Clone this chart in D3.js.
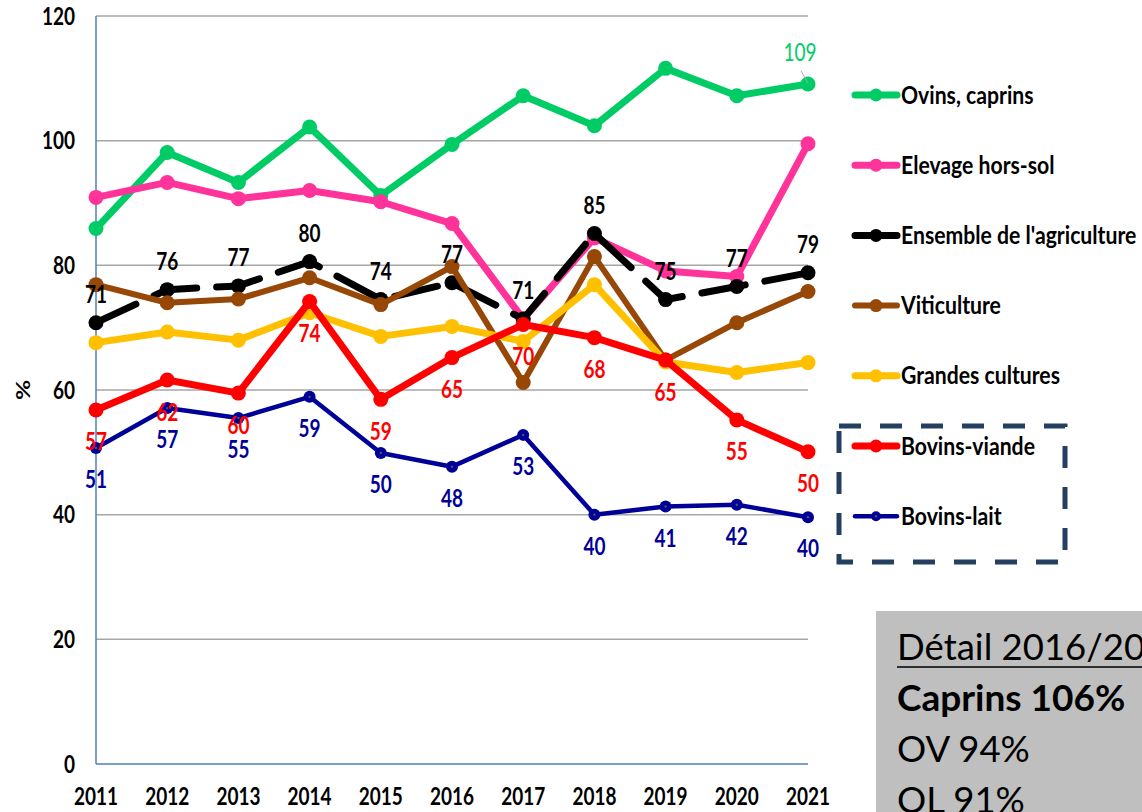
<!DOCTYPE html>
<html>
<head>
<meta charset="utf-8">
<script src="https://cdn.jsdelivr.net/npm/d3@7"></script>
<style>
  body { margin: 0; background: #fff; }
  svg text { font-family: Lato, "Open Sans", sans-serif; }
</style>
</head>
<body>
<svg id="chart" width="1142" height="812"></svg>
<script>
// data
const years = [2011, 2012, 2013, 2014, 2015, 2016, 2017, 2018, 2019, 2020, 2021];
const yTicks = [0, 20, 40, 60, 80, 100, 120];

const ovinsCaprins   = [85.9, 98.1, 93.3, 102.2, 91.2, 99.4, 107.2, 102.4, 111.6, 107.2, 109.1];
const elevageHorsSol = [90.9, 93.3, 90.7, 92.0, 90.2, 86.7, 71.4, 84.4, 79.1, 78.2, 99.5];
const ensemble       = [70.8, 76.1, 76.7, 80.6, 74.5, 77.2, 71.4, 85.1, 74.5, 76.6, 78.8];
const viticulture    = [76.9, 74.0, 74.6, 78.0, 73.7, 79.8, 61.2, 81.4, 64.8, 70.8, 75.8];
const grandesCult    = [67.6, 69.3, 68.0, 72.4, 68.6, 70.2, 67.8, 76.9, 64.5, 62.8, 64.4];
const bovinsViande   = [56.8, 61.6, 59.5, 74.2, 58.5, 65.2, 70.5, 68.4, 64.8, 55.2, 50.1];
const bovinsLait     = [50.7, 57.1, 55.5, 58.9, 49.9, 47.7, 52.8, 40.0, 41.3, 41.6, 39.6];

const ensembleLabels = ["71", "76", "77", "80", "74", "77", "71", "85", "75", "77", "79"];
const viandeLabels   = ["57", "62", "60", "74", "59", "65", "70", "68", "65", "55", "50"];
const laitLabels     = ["51", "57", "55", "59", "50", "48", "53", "40", "41", "42", "40"];
const ovinsLastLabel = "109";

const seriesNames = ["Ovins, caprins", "Elevage hors-sol", "Ensemble de l'agriculture",
                     "Viticulture", "Grandes cultures", "Bovins-viande", "Bovins-lait"];

const detailLines = ["Détail 2016/2021", "Caprins 106%", "OV 94%", "OL 91%"];

// styling per series
const series = [
  { name: seriesNames[0], values: ovinsCaprins,   color: "#00CC66", width: 7, r: 7.5 },
  { name: seriesNames[1], values: elevageHorsSol, color: "#FF3399", width: 7, r: 7.5 },
  { name: seriesNames[2], values: ensemble,       color: "#000000", width: 7, r: 7.5, dash: "44,20" },
  { name: seriesNames[3], values: viticulture,    color: "#974706", width: 6, r: 7.5 },
  { name: seriesNames[4], values: grandesCult,    color: "#FFC000", width: 7, r: 7.5 },
  { name: seriesNames[5], values: bovinsViande,   color: "#FF0000", width: 7, r: 7.5 },
  { name: seriesNames[6], values: bovinsLait,     color: "#000099", width: 4.5, r: 6, dot: true }
];

const svg = d3.select("#chart");
const SY = 1.3; // the source picture is stretched vertically

const x = d3.scaleLinear().domain([2011, 2021]).range([96, 808]);
const y = d3.scaleLinear().domain([0, 120]).range([764, 16]);

function txt(g, px, py, s, o = {}) {
  return g.append("text")
    .attr("transform", `translate(${px},${py}) scale(1,${o.sy || SY})`)
    .attr("text-anchor", o.anchor || "start")
    .attr("font-size", o.size || 19)
    .attr("font-weight", o.weight || "bold")
    .attr("fill", o.fill || "#000")
    .text(s);
}

// grid
svg.append("g").selectAll("line")
  .data(yTicks.filter(d => d > 0))
  .join("line")
  .attr("x1", x(2011)).attr("x2", x(2021))
  .attr("y1", d => y(d)).attr("y2", d => y(d))
  .attr("stroke", "#A6A6A6").attr("stroke-width", 1.5);

// axes lines
svg.append("line").attr("x1", x(2011)).attr("x2", x(2011)).attr("y1", y(120)).attr("y2", y(0))
  .attr("stroke", "#4F81BD").attr("stroke-width", 1.5);
svg.append("line").attr("x1", x(2011)).attr("x2", x(2021)).attr("y1", y(0)).attr("y2", y(0))
  .attr("stroke", "#4F81BD").attr("stroke-width", 1.5);

const axisG = svg.append("g");
yTicks.forEach(t => txt(axisG, 75, y(t) + 8.5, t, { anchor: "end" }));
years.forEach(yr => txt(axisG, x(yr), 805, yr, { anchor: "middle" }));

axisG.append("text")
  .attr("transform", `translate(30,390) rotate(-90) scale(${SY},1)`)
  .attr("text-anchor", "middle")
  .attr("font-size", 19).attr("font-weight", "bold")
  .text("%");

// lines + markers
const line = d3.line().x((d, i) => x(years[i])).y(d => y(d));

series.forEach(s => {
  const g = svg.append("g");
  g.append("path")
    .attr("d", line(s.values))
    .attr("fill", "none")
    .attr("stroke", s.color)
    .attr("stroke-width", s.width)
    .attr("stroke-linejoin", "round")
    .attr("stroke-linecap", "round")
    .attr("stroke-dasharray", s.dash || null);
  g.selectAll("circle.m")
    .data(s.values)
    .join("circle")
    .attr("class", "m")
    .attr("cx", (d, i) => x(years[i]))
    .attr("cy", d => y(d))
    .attr("r", s.r)
    .attr("fill", s.color);
  if (s.dot) {
    g.selectAll("circle.d")
      .data(s.values)
      .join("circle")
      .attr("class", "d")
      .attr("cx", (d, i) => x(years[i]))
      .attr("cy", d => y(d))
      .attr("r", 1.2)
      .attr("fill", "#555");
  }
});

// data labels
const lab = svg.append("g");
ensemble.forEach((v, i) => txt(lab, x(years[i]), y(v) - 19.5, ensembleLabels[i], { anchor: "middle" }));
bovinsViande.forEach((v, i) => txt(lab, x(years[i]), y(v) + 40.5, viandeLabels[i], { anchor: "middle", fill: "#FF0000" }));
bovinsLait.forEach((v, i) => txt(lab, x(years[i]), y(v) + 40, laitLabels[i], { anchor: "middle", fill: "#000099" }));

const lastOv = ovinsCaprins[ovinsCaprins.length - 1];
lab.append("line")
  .attr("x1", x(2021) - 7).attr("y1", y(lastOv) - 13)
  .attr("x2", x(2021)).attr("y2", y(lastOv) - 1)
  .attr("stroke", "#A6A6A6").attr("stroke-width", 1);
txt(lab, x(2021) - 8, y(lastOv) - 23, ovinsLastLabel, { anchor: "middle", weight: "normal", fill: "#00CC66" });

// legend
const leg = svg.append("g");
series.forEach((s, i) => {
  const ly = 95 + i * 70.2;
  leg.append("line").attr("x1", 855).attr("x2", 897).attr("y1", ly).attr("y2", ly)
    .attr("stroke", s.color).attr("stroke-width", s.width).attr("stroke-linecap", "round");
  leg.append("circle").attr("cx", 876).attr("cy", ly).attr("r", s.r - 1).attr("fill", s.color);
  if (s.dot) leg.append("circle").attr("cx", 876).attr("cy", ly).attr("r", 1.2).attr("fill", "#555");
  txt(leg, 901, ly + 8.5, s.name, { size: 21.2, sy: 1.15 });
});

leg.append("rect")
  .attr("x", 839).attr("y", 426).attr("width", 226).attr("height", 136)
  .attr("fill", "none").attr("stroke", "#243F60").attr("stroke-width", 5)
  .attr("stroke-dasharray", "22,19");

// grey note box
const note = svg.append("g");
note.append("rect").attr("x", 876).attr("y", 611).attr("width", 300).attr("height", 220).attr("fill", "#BFBFBF");
const noteY = [660, 711, 762, 813];
detailLines.forEach((t, i) => {
  txt(note, 897, noteY[i], t, { size: i === 1 ? 37 : 36.5, sy: 1.0, weight: i === 1 ? "bold" : "normal" });
});
note.append("line").attr("x1", 897).attr("x2", 1142).attr("y1", 667).attr("y2", 667)
  .attr("stroke", "#000").attr("stroke-width", 1.5);
</script>
</body>
</html>
